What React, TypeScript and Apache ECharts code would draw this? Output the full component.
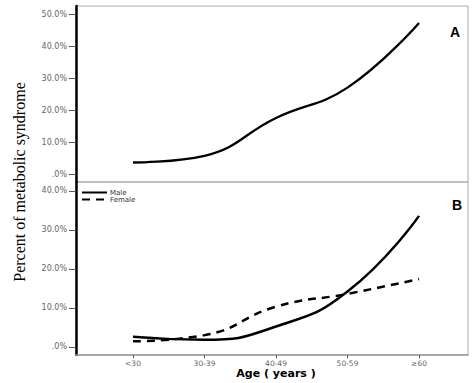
import React, { useEffect, useRef } from "react";
import * as echarts from "echarts";

const categories = ["<30", "30-39", "40-49", "50-59", "≥60"];
const overall = [3.6, 5.7, 17.5, 27.0, 47.2];
const male = [2.6, 1.8, 5.2, 14.2, 33.6];
const female = [1.4, 3.0, 10.3, 13.6, 17.4];
const ticksA = [0, 10, 20, 30, 40, 50];
const ticksB = [0, 10, 20, 30, 40];
const xIdx = [0, 1, 2, 3, 4];

const pct = (v: number) => (v === 0 ? ".0%" : v.toFixed(1) + "%");
const pairs = (arr: number[]) => arr.map((v, i) => [xIdx[i], v]);

export default function App() {
  const ref = useRef<HTMLDivElement>(null);
  useEffect(() => {
    if (!ref.current) return;
    const chart = echarts.init(ref.current, null, { renderer: "svg" });
    const tickLabel = { fontFamily: "DejaVu Sans", fontSize: 8, color: "#666" };
    const yCommon = (ticks: number[]) => ({
      type: "value",
      splitLine: { show: false },
      axisLine: { show: true, onZero: false, lineStyle: { color: "#000", width: 2.5 } },
      axisTick: { show: true, length: 7, customValues: ticks, lineStyle: { color: "#555", width: 1 } },
      axisLabel: { ...tickLabel, margin: 9, customValues: ticks, formatter: (v: number) => pct(v) },
    });
    chart.setOption({
      animation: false,
      grid: [
        { left: 76, top: 6, width: 392, height: 176, show: true, borderColor: "#aaa", borderWidth: 1 },
        { left: 76, top: 182, width: 392, height: 173, show: true, borderColor: "#aaa", borderWidth: 1 },
      ],
      xAxis: [
        {
          gridIndex: 0, type: "value", min: -0.797, max: 4.685,
          axisLine: { show: false, onZero: false }, axisTick: { show: false }, axisLabel: { show: false }, splitLine: { show: false },
        },
        {
          gridIndex: 1, type: "value", min: -0.797, max: 4.685,
          splitLine: { show: false },
          axisLine: { show: true, onZero: false, lineStyle: { color: "#999", width: 1.5 } },
          axisTick: { show: true, length: 3, customValues: xIdx, lineStyle: { color: "#555" } },
          axisLabel: { ...tickLabel, fontSize: 7.5, margin: 4, customValues: xIdx, formatter: (v: number) => categories[Math.round(v)] },
        },
      ],
      yAxis: [
        { gridIndex: 0, min: -2.5, max: 52.5, ...yCommon(ticksA) },
        { gridIndex: 1, min: -2.1, max: 42.3, ...yCommon(ticksB) },
      ],
      legend: {
        data: ["Male", "Female"],
        orient: "vertical",
        left: 81,
        top: 189,
        itemGap: 0,
        itemWidth: 25,
        itemHeight: 7,
        padding: 0,
        itemStyle: { opacity: 0 },
        textStyle: { fontFamily: "DejaVu Sans", fontSize: 7, color: "#333", padding: [0, 0, 0, -2] },
      },
      series: [
        {
          name: "Overall", type: "line", xAxisIndex: 0, yAxisIndex: 0, data: pairs(overall),
          smooth: 0.45, symbol: "none", lineStyle: { color: "#000", width: 2.3 },
        },
        {
          name: "Male", type: "line", xAxisIndex: 1, yAxisIndex: 1, data: pairs(male),
          smooth: 0.5, symbol: "none", lineStyle: { color: "#000", width: 2.5 }, itemStyle: { color: "#000" },
        },
        {
          name: "Female", type: "line", xAxisIndex: 1, yAxisIndex: 1, data: pairs(female),
          smooth: 0.5, symbol: "none", lineStyle: { color: "#000", width: 2.5, type: [8, 6] }, itemStyle: { color: "#000" },
        },
      ],
      graphic: [
        {
          type: "text", x: 19, y: 182, rotation: Math.PI / 2,
          style: {
            text: "Percent of metabolic syndrome", fontFamily: "Liberation Serif", fontSize: 16,
            fill: "#000", textAlign: "center", textVerticalAlign: "middle",
          },
        },
        {
          type: "text", x: 276, y: 373,
          style: {
            text: "Age ( years )", fontFamily: "DejaVu Sans", fontWeight: "bold", fontSize: 11,
            fill: "#000", textAlign: "center", textVerticalAlign: "middle",
          },
        },
        {
          type: "text", x: 455, y: 32,
          style: { text: "A", fontFamily: "Liberation Sans", fontWeight: "bold", fontSize: 14, fill: "#000", textAlign: "center", textVerticalAlign: "middle" },
        },
        {
          type: "text", x: 457, y: 205,
          style: { text: "B", fontFamily: "Liberation Sans", fontWeight: "bold", fontSize: 14, fill: "#000", textAlign: "center", textVerticalAlign: "middle" },
        },
      ],
    });
    return () => chart.dispose();
  }, []);
  return <div ref={ref} style={{ width: 473, height: 383, position: "absolute", left: 0, top: 0 }} />;
}
